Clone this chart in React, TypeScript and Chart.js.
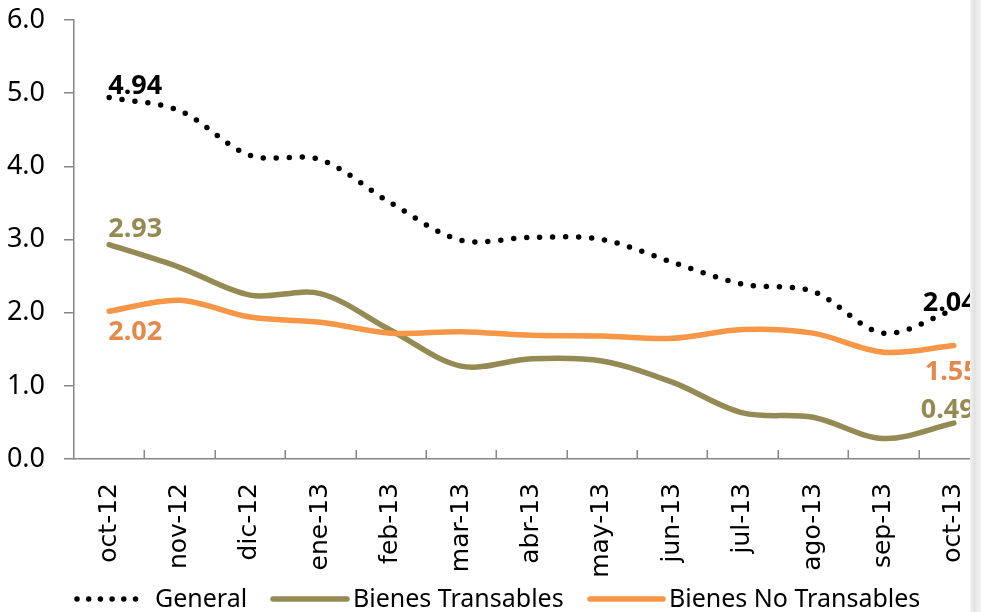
import React, { useEffect, useRef } from "react";
import { Chart, registerables } from "chart.js";

Chart.register(...registerables);

const categories = ["oct-12", "nov-12", "dic-12", "ene-13", "feb-13", "mar-13", "abr-13", "may-13", "jun-13", "jul-13", "ago-13", "sep-13", "oct-13"];
const seriesNames = ["General", "Bienes Transables", "Bienes No Transables"];
const general = [4.94, 4.76, 4.15, 4.09, 3.5, 2.99, 3.03, 3.0, 2.69, 2.39, 2.29, 1.72, 2.04];
const transables = [2.93, 2.62, 2.24, 2.26, 1.76, 1.27, 1.37, 1.34, 1.05, 0.63, 0.57, 0.28, 0.49];
const noTransables = [2.02, 2.17, 1.94, 1.87, 1.72, 1.74, 1.69, 1.68, 1.65, 1.77, 1.72, 1.46, 1.55];
const yMin = 0;
const yMax = 6;
const yStep = 1;

const AXIS = "#868686";
const COLORS = ["#000000", "#948A54", "#F79646"];
const LABEL_COLORS = ["#000000", "#948A54", "#E3894E"];

// label offsets (first point, last point) per dataset, in px relative to the point
const LABEL_OFFSETS = [
  { first: [-1, -4], last: [-31, 1] },
  { first: [-1, -8], last: [-33, -5] },
  { first: [-1, 29], last: [-29, 34] },
];

const overlayPlugin = {
  id: "overlay",
  afterDatasetsDraw(chart: any) {
    const ctx = chart.ctx;
    ctx.save();
    ctx.font = "bold 27px 'Noto Sans'";
    ctx.textAlign = "left";
    ctx.textBaseline = "alphabetic";
    chart.data.datasets.forEach((ds: any, i: number) => {
      const meta = chart.getDatasetMeta(i);
      const pts = meta.data;
      const n = pts.length;
      const off = LABEL_OFFSETS[i];
      ctx.fillStyle = LABEL_COLORS[i];
      const p0 = pts[0];
      ctx.fillText((ds.data[0] as number).toFixed(2), p0.x + off.first[0], p0.y + off.first[1]);
      const pl = pts[n - 1];
      ctx.fillText((ds.data[n - 1] as number).toFixed(2), pl.x + off.last[0], pl.y + off.last[1]);
    });
    ctx.restore();
  },
  afterDraw(chart: any) {
    const ctx = chart.ctx;
    const area = chart.chartArea;
    const n = chart.data.labels.length;
    const w = (area.right - area.left) / n;
    ctx.save();
    // inward tick marks on the x axis
    ctx.strokeStyle = AXIS;
    ctx.lineWidth = 1.5;
    ctx.beginPath();
    for (let i = 1; i <= n; i++) {
      const x = Math.round(area.left + i * w) + 0.25;
      ctx.moveTo(x, area.bottom - 9);
      ctx.lineTo(x, area.bottom);
    }
    ctx.stroke();

    // legend
    const ly = 599;
    const items = [
      { x0: 77, x1: 147, tx: 155, dash: [0, 11.7], width: 5.5 },
      { x0: 273, x1: 347, tx: 353, dash: [], width: 5.5 },
      { x0: 590, x1: 663, tx: 669, dash: [], width: 5.5 },
    ];
    items.forEach((it, i) => {
      ctx.save();
      ctx.strokeStyle = COLORS[i];
      ctx.lineWidth = it.width;
      ctx.lineCap = "round";
      ctx.setLineDash(it.dash);
      ctx.beginPath();
      ctx.moveTo(it.x0, ly);
      ctx.lineTo(it.x1, ly);
      ctx.stroke();
      ctx.restore();
      ctx.fillStyle = "#000000";
      ctx.font = "25px 'Noto Sans'";
      ctx.textAlign = "left";
      ctx.textBaseline = "alphabetic";
      ctx.fillText(seriesNames[i], it.tx, 607);
    });
    ctx.restore();
  },
};

export default function App() {
  const ref = useRef<HTMLCanvasElement>(null);
  useEffect(() => {
    const canvas = ref.current!;
    const chart = new Chart(canvas, {
      type: "line",
      data: {
        labels: categories,
        datasets: [
          {
            label: seriesNames[0],
            data: general,
            borderColor: COLORS[0],
            borderWidth: 5.5,
            borderDash: [0, 13],
            borderCapStyle: "round",
            borderJoinStyle: "round",
            pointRadius: 0,
            tension: 0.33,
            fill: false,
            order: 0,
          },
          {
            label: seriesNames[1],
            data: transables,
            borderColor: COLORS[1],
            borderWidth: 5.5,
            borderCapStyle: "round",
            borderJoinStyle: "round",
            pointRadius: 0,
            tension: 0.33,
            fill: false,
            order: 2,
          },
          {
            label: seriesNames[2],
            data: noTransables,
            borderColor: COLORS[2],
            borderWidth: 5.5,
            borderCapStyle: "round",
            borderJoinStyle: "round",
            pointRadius: 0,
            tension: 0.33,
            fill: false,
            order: 1,
          },
        ],
      },
      options: {
        responsive: false,
        animation: false,
        events: [],
        layout: { padding: { top: 20, right: 6, bottom: 0, left: 0 } },
        plugins: {
          legend: { display: false },
          tooltip: { enabled: false },
        },
        scales: {
          x: {
            type: "category",
            offset: true,
            grid: { display: false, drawTicks: false },
            border: { display: true, color: AXIS, width: 1.5 },
            ticks: {
              autoSkip: false,
              minRotation: 90,
              maxRotation: 90,
              padding: 24,
              color: "#000000",
              font: { family: "'DejaVu Sans'", size: 25 },
            },
            afterFit(scale: any) {
              scale.height = 612 - 459;
              scale.paddingLeft = 0;
              scale.paddingRight = 0;
            },
          },
          y: {
            min: yMin,
            max: yMax,
            grid: {
              drawOnChartArea: false,
              drawTicks: true,
              tickLength: 10,
              color: AXIS,
              lineWidth: 1.5,
            },
            border: { display: true, color: AXIS, width: 1.5 },
            ticks: {
              stepSize: yStep,
              padding: 19,
              color: "#000000",
              font: { family: "'Noto Sans'", size: 27 },
              callback: (v: any) => Number(v).toFixed(1),
            },
            afterFit(scale: any) {
              scale.width = 74;
              scale.paddingTop = 0;
              scale.paddingBottom = 0;
            },
          },
        },
      },
      plugins: [overlayPlugin],
    } as any);
    return () => chart.destroy();
  }, []);

  return (
    <div
      style={{
        position: "absolute",
        left: 0,
        top: 0,
        width: 981,
        height: 612,
        overflow: "hidden",
        background: "#ffffff",
      }}
    >
      <canvas ref={ref} width={995} height={612} style={{ display: "block", width: 995, height: 612 }} />
      <div
        style={{
          position: "absolute",
          left: 970,
          top: 0,
          width: 11,
          height: 612,
          background:
            "linear-gradient(to right, #f3f3f3 0px, #e6e6e6 3px, #e2e2e2 5px, #ececec 7px, #f2f2f2 11px)",
        }}
      />
    </div>
  );
}
